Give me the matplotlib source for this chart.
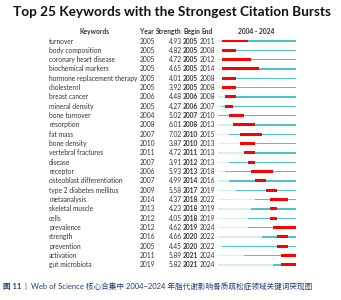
import matplotlib.pyplot as plt

plt.rcParams['font.family'] = ['Lato', 'Noto Sans CJK SC', 'DejaVu Sans']

keywords = ['turnover', 'body composition', 'coronary heart disease', 'biochemical markers',
            'hormone replacement therapy', 'cholesterol', 'breast cancer', 'mineral density',
            'bone turnover', 'resorption', 'fat mass', 'bone density', 'vertebral fractures',
            'disease', 'receptor', 'osteoblast differentiation', 'type 2 diabetes mellitus',
            'metaanalysis', 'skeletal muscle', 'cells', 'prevalence', 'strength', 'prevention',
            'activation', 'gut microbiota']
years = [2005, 2005, 2005, 2005, 2005, 2005, 2006, 2005, 2004, 2008, 2007, 2010, 2011,
         2007, 2006, 2007, 2009, 2014, 2013, 2012, 2012, 2016, 2005, 2011, 2019]
strengths = [4.93, 4.82, 4.72, 4.65, 4.01, 3.92, 4.48, 4.27, 5.02, 6.01, 7.02, 3.87, 4.72,
             3.91, 5.93, 4.99, 5.58, 4.37, 4.23, 4.05, 4.62, 4.66, 4.45, 5.89, 5.82]
begins = [2005, 2005, 2005, 2005, 2005, 2005, 2006, 2006, 2007, 2008, 2010, 2010, 2011,
          2012, 2013, 2014, 2017, 2018, 2018, 2018, 2019, 2020, 2020, 2021, 2021]
ends = [2011, 2008, 2012, 2014, 2008, 2008, 2008, 2007, 2010, 2013, 2015, 2013, 2013,
        2013, 2018, 2016, 2019, 2022, 2019, 2019, 2024, 2022, 2022, 2024, 2024]
first_year, last_year = 2004, 2024

W, H = 341, 300
row0, step = 41, 9.33
ylo, yhi = (H - row0) / step, -row0 / step

fig = plt.figure(figsize=(W / 100, H / 100), dpi=100)
ax = fig.add_axes([0, 0, 1, 1])
ax.set_xlim(0, W)
ax.set_ylim(ylo, yhi)
ax.axis('off')

fs = 4.8
txt = '#333333'
ax.text(W / 2 + 1, -3.1, 'Top 25 Keywords with the Strongest Citation Bursts', ha='center',
        va='center', fontsize=9.8, fontweight='bold', color='#111111')
hy = -1
ax.text(94, hy, 'Keywords', ha='center', va='center', fontsize=fs, fontweight='bold', color=txt)
ax.text(140, hy, 'Year', ha='left', va='center', fontsize=fs, fontweight='bold', color=txt)
ax.text(182, hy, 'Strength', ha='right', va='center', fontsize=fs, fontweight='bold', color=txt)
ax.text(183, hy, 'Begin', ha='left', va='center', fontsize=fs, fontweight='bold', color=txt)
ax.text(201, hy, 'End', ha='left', va='center', fontsize=fs, fontweight='bold', color=txt)
ax.text(256, hy, f'{first_year} - {last_year}', ha='center', va='center', fontsize=fs,
        fontweight='bold', color=txt)

for i, kw in enumerate(keywords):
    ax.text(49, i, kw, ha='left', va='center', fontsize=fs, color=txt)
    ax.text(140, i, str(years[i]), ha='left', va='center', fontsize=fs, color=txt)
    ax.text(182, i, f'{strengths[i]:.2f}', ha='right', va='center', fontsize=fs, color=txt)
    ax.text(183, i, str(begins[i]), ha='left', va='center', fontsize=fs, fontweight='bold', color=txt)
    ax.text(200, i, str(ends[i]), ha='left', va='center', fontsize=fs, color=txt)

cap_y = (286 - row0) / step
cap_c = '#1f3f78'
ax.text(3, cap_y, '图 11', ha='left', va='center', fontsize=5.5, fontweight='bold', color=cap_c)
ax.text(25, cap_y, '|  Web of Science 核心合集中 2004−2024 年脂代谢影响骨质疏松症领域关键词突现图',
        ha='left', va='center', fontsize=5.5, color=cap_c)

# timeline bars
x0, x1 = 218, 295.5
bx = fig.add_axes([x0 / W, 0, (x1 - x0) / W, 1])
bx.set_xlim(first_year, last_year + 1)
bx.set_ylim(ylo, yhi)
bx.axis('off')
rows = list(range(len(keywords)))
pale = [y - first_year for y in years]
teal = [last_year + 1 - y for y in years]
red = [e + 1 - b for b, e in zip(begins, ends)]
bx.barh(rows, pale, left=first_year, height=0.15, color='#d6eff0', linewidth=0)
bx.barh(rows, teal, left=years, height=0.15, color='#4fc4c6', linewidth=0)
bx.barh(rows, red, left=begins, height=0.32, color='#ff0000', linewidth=0)

fig.savefig('out.png', dpi=100)
